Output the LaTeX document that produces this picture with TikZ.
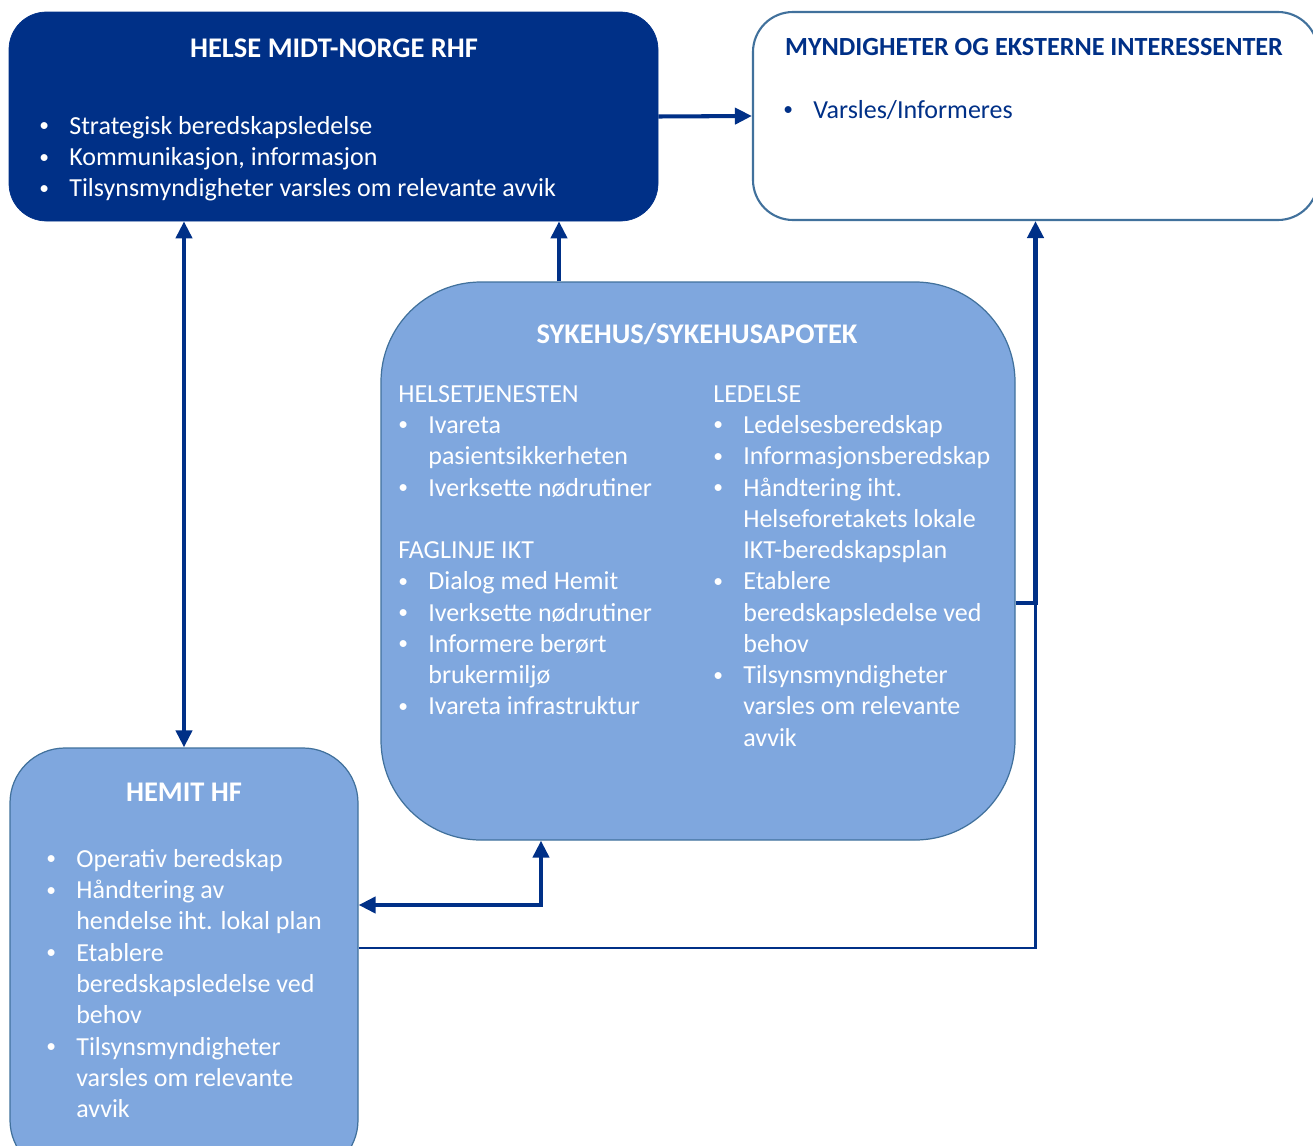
\documentclass[tikz,border=0pt]{standalone}
\usepackage{fontspec}
\setmainfont{Carlito}
\usetikzlibrary{arrows.meta, positioning, fit}

\definecolor{navy}{RGB}{0,48,135}
\definecolor{skyfill}{RGB}{127,167,222}
\definecolor{edgeblue}{RGB}{65,113,156}

\newcommand{\bl}{\makebox[0.6cm][l]{\raisebox{0.1em}{\scalebox{0.75}{\textbullet}}}}
\newcommand{\ind}{\hspace*{0.6cm}}

\begin{document}
\begin{tikzpicture}[
        x=0.02cm, y=-0.02cm,
        >={Triangle[length=0.34cm, width=0.32cm]},
        box/.style={rectangle, inner sep=0pt},
        darkbox/.style={box, fill=navy, draw=navy, rounded corners=0.75cm},
        whitebox/.style={box, fill=white, draw=edgeblue, line width=1.2pt, rounded corners=0.8cm},
        lightbox/.style={box, fill=skyfill, draw=edgeblue, line width=0.7pt},
        title/.style={font=\fontsize{16.2}{19}\selectfont\bfseries},
        list/.style={anchor=north west, align=left, inner sep=0pt, font=\fontsize{14.8}{17.8}\selectfont},
        arr/.style={draw=navy, line width=2.3pt, ->},
        arrboth/.style={draw=navy, line width=2.3pt, <->}
    ]
        \useasboundingbox (0,0) rectangle (1313,1146);

        % boxes
        \node[darkbox, fit={(9,12) (658,221)}] (rhf) {};
        \node[whitebox, fit={(753,12) (1318,220)}] (myn) {};
        \node[lightbox, rounded corners=2cm, fit={(381,282) (1015,840)}] (syk) {};
        \node[lightbox, rounded corners=1.1cm, fit={(10,748) (358,1175)}] (hemit) {};

        % texts
        \node[title, text=white] (rhf-t) at (334,48) {HELSE MIDT-NORGE RHF};
        \node[list, text=white] (rhf-l) at (39,116) {\bl Strategisk beredskapsledelse\\ \bl Kommunikasjon, informasjon\\ \bl Tilsynsmyndigheter varsles om relevante avvik};

        \node[title, text=navy, font=\fontsize{14.9}{18}\selectfont\bfseries] (myn-t) at (1034,47) {MYNDIGHETER OG EKSTERNE INTERESSENTER};
        \node[list, text=navy] (myn-l) at (783,100) {\bl Varsles/Informeres};

        \node[title, text=white] (syk-t) at (697,334) {SYKEHUS/SYKEHUSAPOTEK};
        \node[list, text=white] (syk-l) at (398,385) {HELSETJENESTEN\\ \bl Ivareta\\ \ind pasientsikkerheten\\ \bl Iverksette nødrutiner\\[17.8pt] FAGLINJE IKT\\ \bl Dialog med Hemit\\ \bl Iverksette nødrutiner\\ \bl Informere berørt\\ \ind brukermiljø\\ \bl Ivareta infrastruktur};
        \node[list, text=white] (syk-r) at (713,385) {LEDELSE\\ \bl Ledelsesberedskap\\ \bl Informasjonsberedskap\\ \bl Håndtering iht.\\ \ind Helseforetakets lokale\\ \ind IKT-beredskapsplan\\ \bl Etablere\\ \ind beredskapsledelse ved\\ \ind behov\\ \bl Tilsynsmyndigheter\\ \ind varsles om relevante\\ \ind avvik};

        \node[title, text=white] (hemit-t) at (184,792) {HEMIT HF};
        \node[list, text=white] (hemit-l) at (46,849) {\bl Operativ beredskap\\ \bl Håndtering av\\ \ind hendelse iht. lokal plan\\ \bl Etablere\\ \ind beredskapsledelse ved\\ \ind behov\\ \bl Tilsynsmyndigheter\\ \ind varsles om relevante\\ \ind avvik};

        % connectors
        \coordinate (join) at (myn.south |- 0,603);
        \draw[arr] (rhf.east) -- (myn.west);
        \draw[arrboth] (hemit.north |- rhf.south) -- (hemit.north);
        \draw[arr] (syk.north -| 559,0) -- (rhf.south -| 559,0);
        \draw[arr, line width=2.8pt] (syk.east |- join) -- (join) -- (myn.south);
        \draw[arrboth] (hemit.east |- 0,905) -| (syk.south -| 541,0);
        \draw[navy, line width=1.4pt] (hemit.east |- 0,948) -| (join);
    \end{tikzpicture}
\end{document}
